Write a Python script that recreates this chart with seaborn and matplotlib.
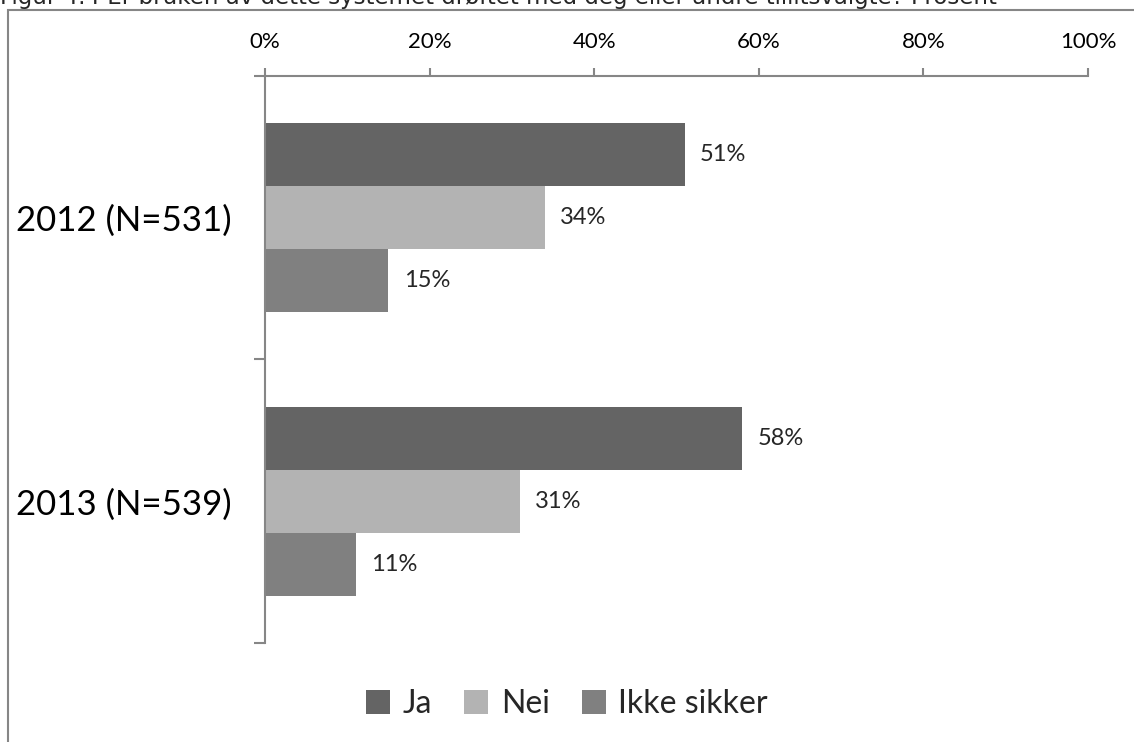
import numpy as np
import pandas as pd
import seaborn as sns
import matplotlib.pyplot as plt
from matplotlib.patches import Rectangle, Patch
from matplotlib.ticker import FixedLocator

# Values
groups = ['2012 (N=531)', '2013 (N=539)']
answers = ['Ja', 'Nei', 'Ikke sikker']
ja = [51, 58]
nei = [34, 31]
ikke_sikker = [15, 11]
colors = ['#646464', '#b3b3b3', '#808080']
title = 'Figur 4.4 Er bruken av dette systemet drøftet med deg eller andre tillitsvalgte? Prosent'

df = pd.DataFrame({
    'group': groups * 3,
    'answer': [a for a in answers for _ in groups],
    'value': ja + nei + ikke_sikker,
})

sns.set_style('white')
plt.rcParams['font.family'] = ['Lato', 'DejaVu Sans']

fig = plt.figure(figsize=(11.34, 7.42), dpi=100)
ax = fig.add_axes([265 / 1134, 1 - 643 / 742, (1088 - 265) / 1134, (643 - 76) / 742])

sns.barplot(data=df, x='value', y='group', hue='answer', hue_order=answers,
            order=groups, palette=colors, orient='h', width=2 / 3,
            linewidth=0, saturation=1, ax=ax, legend=False)

ax.set_xlim(0, 100)
ax.set_ylim(1.5, -0.5)
ax.set_xlabel('')
ax.set_ylabel('')

spine_col = '#868686'
for side in ['right', 'bottom']:
    ax.spines[side].set_visible(False)
for side in ['left', 'top']:
    ax.spines[side].set_color(spine_col)
    ax.spines[side].set_linewidth(1.5)

ax.xaxis.tick_top()
ax.set_xticks(np.arange(0, 101, 20))
ax.set_xticklabels([f'{t}%' for t in range(0, 101, 20)])
ax.tick_params(axis='x', direction='out', length=6, width=1.5, color=spine_col,
               pad=11, labelsize=16, labelcolor='black')

ax.set_yticks([0, 1])
ax.set_yticklabels(groups)
ax.tick_params(axis='y', which='major', length=0, pad=24, labelsize=25, labelcolor='black')
ax.yaxis.set_minor_locator(FixedLocator([-0.5, 0.5, 1.5]))
ax.tick_params(axis='y', which='minor', direction='out', length=8, width=1.5,
               color=spine_col, left=True)

# value labels next to bars
for cont in ax.containers:
    ax.bar_label(cont, labels=[f'{v:.0f}%' for v in cont.datavalues],
                 padding=11, fontsize=17)

handles = [Patch(facecolor=c, edgecolor='none') for c in colors]
fig.legend(handles, answers, loc='center', bbox_to_anchor=(567 / 1134, 1 - 704 / 742),
           ncol=3, frameon=False, fontsize=23, handlelength=0.75, handleheight=0.75,
           handletextpad=0.4, columnspacing=1.0)

# chart frame and clipped title
fig.patches.append(Rectangle((8 / 1134, -0.05), 1.1, 1 - 10 / 742 + 0.05,
                             transform=fig.transFigure, fill=False,
                             edgecolor=spine_col, linewidth=1.5))
fig.text(0.0, 1 - 4 / 742, title, fontsize=16.5, family='DejaVu Sans', va='baseline')

fig.savefig('out.png', dpi=100)
